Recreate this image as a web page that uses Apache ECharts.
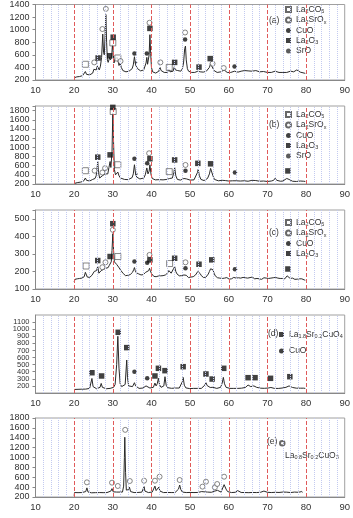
<!DOCTYPE html>
<html>
<head>
<meta charset="utf-8">
<script src="https://cdn.jsdelivr.net/npm/echarts@6/dist/echarts.min.js"></script>
<style>
  html, body { margin: 0; padding: 0; background: #fff; }
  #chart { width: 353px; height: 518px; }
</style>
</head>
<body>
<div id="chart"></div>
<script>
// XRD patterns, 2θ in degrees vs intensity
const traceA = [[20.0,235],[20.3,255],[20.7,250],[21.0,260],[21.4,255],[21.8,265],[22.2,270],[22.6,290],[22.9,335],[23.2,290],[23.6,275],[24.0,280],[24.4,290],[24.8,310],[25.1,370],[25.4,340],[25.7,360],[26.0,420],[26.2,440],[26.5,360],[26.8,420],[27.1,560],[27.4,930],[27.6,640],[27.8,600],[28.0,900],[28.2,1240],[28.4,800],[28.6,520],[28.8,480],[29.0,500],[29.2,560],[29.4,520],[29.7,560],[29.9,760],[30.1,640],[30.3,470],[30.5,520],[30.8,490],[31.1,560],[31.3,520],[31.6,430],[31.9,470],[32.2,400],[32.6,350],[33.0,340],[33.4,330],[33.8,320],[34.2,340],[34.6,350],[35.0,380],[35.3,440],[35.6,570],[35.9,440],[36.1,420],[36.4,380],[36.8,360],[37.2,345],[37.6,350],[38.0,360],[38.3,390],[38.6,470],[38.8,560],[39.0,450],[39.2,430],[39.4,600],[39.6,920],[39.8,620],[40.0,400],[40.3,330],[40.7,310],[41.1,310],[41.5,320],[41.9,340],[42.2,400],[42.5,350],[42.9,330],[43.3,320],[43.7,310],[44.1,320],[44.5,370],[44.8,330],[45.2,320],[45.6,340],[45.9,410],[46.2,360],[46.5,380],[46.8,350],[47.2,360],[47.6,340],[48.0,380],[48.3,470],[48.6,700],[48.8,740],[49.0,520],[49.3,380],[49.6,340],[50.0,330],[50.4,320],[50.8,330],[51.2,320],[51.6,330],[52.0,340],[52.3,360],[52.6,330],[53.0,320],[53.4,325],[53.8,330],[54.2,340],[54.6,360],[55.0,400],[55.3,460],[55.6,420],[55.9,400],[56.2,350],[56.6,330],[57.0,320],[57.5,325],[58.0,330],[58.5,340],[58.8,360],[59.1,330],[59.6,320],[60.0,315],[60.5,320],[61.0,325],[61.5,340],[61.9,320],[62.4,325],[62.8,330],[63.2,340],[63.7,370],[64.1,350],[64.5,340],[65.0,345],[65.5,330],[66.0,340],[66.5,335],[67.0,350],[67.4,340],[68.0,330],[68.5,325],[69.0,335],[69.5,330],[70.0,320],[70.5,325],[71.0,320],[71.5,330],[72.0,340],[72.4,330],[73.0,320],[73.5,315],[74.0,320],[74.5,325],[75.0,320],[75.5,330],[76.0,340],[76.4,350],[76.8,330],[77.2,345],[77.6,360],[78.0,330],[78.5,325],[79.0,320],[79.5,310],[79.8,305]];

const traceB = [[20.0,210],[20.4,225],[20.8,230],[21.2,235],[21.6,240],[22.0,245],[22.4,260],[22.7,300],[22.9,330],[23.2,280],[23.6,260],[24.0,265],[24.4,280],[24.8,300],[25.1,340],[25.4,320],[25.7,380],[26.0,600],[26.1,690],[26.3,450],[26.6,330],[27.0,350],[27.3,380],[27.6,340],[28.0,420],[28.3,380],[28.7,420],[29.0,560],[29.3,690],[29.5,560],[29.8,900],[30.0,1750],[30.2,1100],[30.4,520],[30.7,400],[31.0,420],[31.3,460],[31.6,380],[32.0,330],[32.5,310],[33.0,300],[33.5,290],[34.0,295],[34.5,310],[35.0,340],[35.3,420],[35.6,620],[35.9,420],[36.2,350],[36.6,320],[37.0,310],[37.5,315],[38.0,330],[38.4,400],[38.8,550],[39.1,420],[39.4,480],[39.6,620],[39.9,400],[40.2,320],[40.6,300],[41.0,290],[41.5,285],[42.0,295],[42.5,300],[43.0,290],[43.5,285],[44.0,300],[44.4,330],[44.7,320],[45.0,300],[45.4,330],[45.8,450],[46.0,560],[46.3,380],[46.7,300],[47.0,290],[47.5,285],[48.0,300],[48.4,320],[48.8,360],[49.1,310],[49.5,290],[50.0,285],[50.5,280],[51.0,290],[51.5,320],[51.9,450],[52.1,520],[52.4,380],[52.8,300],[53.2,280],[53.6,275],[54.0,285],[54.5,320],[55.0,420],[55.3,540],[55.6,500],[55.9,380],[56.3,300],[56.8,280],[57.3,270],[57.8,275],[58.3,280],[58.7,300],[59.1,275],[59.6,265],[60.0,265],[60.5,260],[61.0,270],[61.5,300],[61.9,270],[62.4,260],[63.0,265],[63.5,260],[64.0,270],[64.5,265],[65.0,260],[65.5,275],[66.0,280],[66.5,285],[67.0,275],[67.5,265],[68.0,260],[68.5,255],[69.0,265],[69.5,260],[70.0,255],[70.5,260],[71.0,265],[71.6,280],[72.0,325],[72.4,280],[72.9,265],[73.4,260],[74.0,265],[74.5,275],[75.0,320],[75.3,360],[75.6,300],[76.0,270],[76.5,260],[77.0,265],[77.5,255],[78.0,260],[78.5,265],[79.0,280],[79.4,260],[79.8,255]];

const traceC = [[20.0,140],[20.2,155],[20.5,150],[20.8,158],[21.1,152],[21.4,160],[21.7,155],[22.0,162],[22.3,158],[22.6,170],[22.9,195],[23.1,185],[23.4,168],[23.7,172],[24.0,166],[24.3,175],[24.6,178],[24.9,185],[25.2,200],[25.5,190],[25.8,205],[26.1,228],[26.4,190],[26.7,195],[27.0,205],[27.3,200],[27.6,212],[27.9,205],[28.2,218],[28.5,210],[28.8,222],[29.1,235],[29.3,230],[29.6,255],[29.8,320],[30.0,415],[30.2,320],[30.4,255],[30.7,265],[31.0,240],[31.2,248],[31.5,225],[31.8,215],[32.1,205],[32.4,195],[32.7,188],[33.0,182],[33.3,176],[33.6,172],[33.9,178],[34.2,170],[34.5,182],[34.8,185],[35.1,195],[35.4,210],[35.6,222],[35.8,205],[36.1,192],[36.4,184],[36.7,186],[37.0,178],[37.3,180],[37.6,174],[37.9,182],[38.2,185],[38.5,195],[38.8,205],[39.0,198],[39.3,205],[39.5,218],[39.7,205],[40.0,188],[40.3,178],[40.6,172],[40.9,176],[41.2,170],[41.5,178],[41.8,174],[42.1,180],[42.4,175],[42.7,182],[43.0,176],[43.3,172],[43.6,180],[43.9,185],[44.2,192],[44.5,205],[44.8,198],[45.1,190],[45.4,198],[45.7,215],[46.0,228],[46.3,200],[46.6,186],[46.9,180],[47.2,175],[47.5,170],[47.8,176],[48.1,172],[48.4,180],[48.7,190],[49.0,178],[49.3,170],[49.6,165],[49.9,172],[50.2,168],[50.5,174],[50.8,170],[51.1,176],[51.4,180],[51.7,188],[52.0,200],[52.3,210],[52.6,188],[52.9,176],[53.2,170],[53.5,165],[53.8,172],[54.1,168],[54.4,176],[54.7,185],[55.0,200],[55.3,215],[55.6,226],[55.9,210],[56.2,190],[56.5,175],[56.8,168],[57.1,164],[57.4,170],[57.7,162],[58.0,166],[58.3,160],[58.6,168],[58.9,162],[59.2,158],[59.5,165],[59.8,160],[60.1,156],[60.4,164],[60.7,158],[61.0,162],[61.3,166],[61.6,172],[61.9,162],[62.2,158],[62.5,164],[62.8,156],[63.1,162],[63.4,158],[63.7,166],[64.0,160],[64.3,164],[64.6,156],[64.9,162],[65.2,158],[65.5,165],[65.8,160],[66.1,168],[66.4,162],[66.7,158],[67.0,164],[67.3,160],[67.6,166],[67.9,158],[68.2,162],[68.5,155],[68.8,160],[69.1,164],[69.4,158],[69.7,162],[70.0,156],[70.3,160],[70.6,155],[70.9,162],[71.2,158],[71.5,164],[71.8,160],[72.1,166],[72.4,158],[72.7,162],[73.0,156],[73.3,160],[73.6,154],[73.9,160],[74.2,162],[74.5,158],[74.8,166],[75.1,175],[75.3,182],[75.6,168],[75.9,160],[76.2,156],[76.5,162],[76.8,158],[77.1,155],[77.4,160],[77.7,156],[78.0,162],[78.3,158],[78.6,154],[78.9,158],[79.2,155],[79.5,152],[79.8,150]];

const traceD = [[20.0,150],[20.5,155],[21.0,152],[21.5,156],[22.0,154],[22.5,158],[23.0,155],[23.5,160],[24.0,165],[24.3,190],[24.6,305],[24.9,190],[25.3,165],[25.8,160],[26.3,165],[26.7,180],[27.0,235],[27.3,180],[27.8,165],[28.3,160],[28.8,162],[29.3,165],[29.8,170],[30.2,180],[30.6,220],[31.0,500],[31.3,900],[31.6,450],[31.9,230],[32.3,190],[32.8,180],[33.2,220],[33.5,480],[33.6,565],[33.8,320],[34.1,200],[34.6,180],[35.1,190],[35.4,215],[35.6,245],[35.9,200],[36.3,175],[36.8,165],[37.3,165],[37.8,170],[38.3,175],[38.6,200],[38.8,222],[39.1,185],[39.6,170],[40.1,168],[40.5,180],[40.9,240],[41.2,200],[41.5,230],[41.8,307],[42.1,215],[42.5,180],[42.9,175],[43.2,200],[43.5,330],[43.8,210],[44.2,175],[44.7,168],[45.2,166],[45.7,165],[46.2,170],[46.7,168],[47.2,170],[47.7,185],[48.0,260],[48.2,320],[48.5,210],[48.9,172],[49.4,165],[49.9,162],[50.4,160],[50.9,165],[51.4,163],[51.9,165],[52.4,168],[52.9,165],[53.4,175],[53.8,210],[54.1,245],[54.4,205],[54.8,180],[55.2,178],[55.6,200],[55.9,180],[56.4,168],[56.9,165],[57.4,168],[57.9,180],[58.3,240],[58.6,320],[58.9,230],[59.3,180],[59.8,168],[60.3,165],[60.8,162],[61.3,165],[61.8,168],[62.3,165],[62.8,166],[63.3,168],[63.8,170],[64.3,178],[64.7,195],[65.0,212],[65.3,200],[65.7,190],[66.1,192],[66.5,200],[66.8,198],[67.2,180],[67.7,172],[68.2,168],[68.7,165],[69.2,166],[69.7,168],[70.2,170],[70.6,175],[70.9,178],[71.3,168],[71.8,165],[72.3,166],[72.8,164],[73.3,168],[73.8,170],[74.3,172],[74.8,180],[75.2,195],[75.6,200],[76.0,185],[76.5,178],[77.0,170],[77.5,168],[78.0,165],[78.5,168],[79.0,175],[79.4,168],[79.8,165]];

const traceE = [[20.0,225],[20.1,290],[20.5,285],[21.0,288],[21.5,282],[22.0,290],[22.5,292],[23.0,310],[23.3,385],[23.6,300],[24.0,290],[24.5,285],[25.0,282],[25.5,288],[26.0,285],[26.5,290],[27.0,285],[27.5,288],[28.0,292],[28.5,290],[29.0,300],[29.5,320],[29.8,370],[30.1,305],[30.5,290],[31.0,300],[31.3,330],[31.6,300],[32.0,295],[32.5,300],[32.8,420],[33.0,1000],[33.1,1410],[33.3,700],[33.5,340],[33.8,320],[34.1,350],[34.3,400],[34.6,310],[35.0,295],[35.5,290],[36.0,288],[36.5,292],[37.0,290],[37.5,298],[37.9,330],[38.1,410],[38.3,320],[38.7,295],[39.2,290],[39.7,292],[40.2,300],[40.6,340],[40.9,420],[41.2,330],[41.5,340],[41.9,400],[42.2,320],[42.6,295],[43.1,290],[43.6,288],[44.1,292],[44.6,288],[45.1,290],[45.6,292],[46.1,290],[46.6,300],[47.0,360],[47.3,443],[47.6,350],[48.0,300],[48.5,292],[49.0,290],[49.5,295],[50.0,292],[50.5,288],[51.0,290],[51.5,295],[52.0,292],[52.5,300],[53.0,310],[53.3,330],[53.6,305],[54.1,320],[54.5,300],[55.0,292],[55.5,295],[56.0,300],[56.4,320],[56.8,305],[57.1,335],[57.5,310],[58.0,300],[58.4,330],[58.8,450],[59.0,477],[59.3,360],[59.7,310],[60.2,295],[60.7,290],[61.2,292],[61.7,295],[62.3,330],[62.7,300],[63.2,292],[63.7,288],[64.2,290],[64.7,292],[65.2,288],[65.7,290],[66.2,292],[66.7,288],[67.2,290],[67.7,292],[68.2,295],[68.7,300],[69.1,320],[69.3,340],[69.6,305],[70.0,295],[70.5,292],[71.0,290],[71.5,292],[72.0,295],[72.5,290],[73.0,292],[73.5,295],[74.0,300],[74.5,310],[75.0,298],[75.5,292],[76.0,290],[76.5,295],[77.0,300],[77.5,310],[78.0,295],[78.5,305],[78.9,310],[79.1,295]];

// phase markers above the peaks
const marksA = {
  La2CO5: [[22.9,450],[30.0,790],[31.3,550],[44.6,400]],
  La2SrOx: [[25.2,480],[27.3,1010],[28.2,1330],[32.0,500],[39.5,1110],[42.3,480],[48.7,955],[55.8,460],[58.7,390]],
  CuO: [[35.6,620],[38.8,620],[48.7,845],[61.5,415]],
  La2O3: [[26.2,550],[29.2,585],[30.1,880],[39.6,1020],[46.0,480],[52.3,405],[55.2,540]],
  SrO: [[36.0,480]]
};
const marksB = {
  La2CO5: [[22.9,490],[30.1,1780],[31.3,620],[44.6,470]],
  La2SrOx: [[25.3,490],[27.3,450],[28.0,545],[39.4,870],[48.8,615]],
  CuO: [[35.6,750],[38.9,650],[48.8,490],[61.6,450]],
  La2O3: [[26.1,785],[29.3,835],[30.0,1870],[39.6,750],[46.0,725],[52.0,650],[55.3,640],[75.3,485]],
  SrO: [[36.1,420]]
};
const marksC = {
  La2CO5: [[23.1,231],[31.3,285],[44.7,245]],
  La2SrOx: [[27.3,224],[28.1,252],[30.0,437],[39.5,294],[48.8,252]],
  CuO: [[35.6,256],[38.9,250],[48.8,218],[61.6,212]],
  La2O3: [[26.1,262],[29.3,285],[30.0,472],[39.6,266],[46.0,275],[52.3,241],[55.6,266],[75.3,214]]
};
const marksD = {
  'La1.8Sr0.2CuO4': [[24.6,386],[27.1,340],[31.4,956],[33.6,740],[40.9,340],[41.8,448],[43.5,415],[48.2,471],[54.1,368],[55.7,297],[58.7,448],[65.0,316],[66.8,316],[70.8,307],[75.8,330]],
  CuO: [[35.6,400],[38.9,307]]
};
const marksE = {
  'La0.8Sr0.2CuO3': [[23.3,497],[29.8,490],[31.3,423],[33.2,1560],[34.4,524],[38.1,530],[40.9,530],[42.1,611],[47.3,544],[53.2,410],[54.1,510],[56.4,396],[57.0,463],[58.8,611]]
};

// red dashed guide lines every 10 degrees, light dotted ones every 2
const guideX = [20, 30, 40, 50, 60, 70, 80];
const minorX = [12, 14, 16, 18, 22, 24, 26, 28, 32, 34, 36, 38, 42, 44, 46, 48, 52, 54, 56, 58, 62, 64, 66, 68, 72, 74, 76, 78, 82, 84, 86, 88];
const panelLabels = ['(a)', '(b)', '(c)', '(d)', '(e)'];

const phaseRich = {
  La2CO5: 'La{s|2}CO{s|5}',
  La2SrOx: 'La{s|2}SrO{s|x}',
  CuO: 'CuO',
  La2O3: 'La{s|2}O{s|3}',
  SrO: 'SrO',
  'La1.8Sr0.2CuO4': 'La{s|1.8}Sr{s|0.2}CuO{s|4}',
  'La0.8Sr0.2CuO3': 'La{s|0.8}Sr{s|0.2}CuO{s|3}'
};

const openStyle = { color: '#fff', borderColor: '#444', borderWidth: 0.8 };
const fillStyle = { color: '#111' };
const phaseStyle = {
  La2CO5: { symbol: 'rect', size: 6, itemStyle: openStyle },
  La2SrOx: { symbol: 'circle', size: 5, itemStyle: openStyle },
  CuO: { symbol: 'circle', size: 4.5, itemStyle: fillStyle },
  La2O3: { symbol: 'rect', size: 5.5, itemStyle: fillStyle },
  SrO: { symbol: 'circle', size: 2.5, itemStyle: { color: '#333' } },
  'La1.8Sr0.2CuO4': { symbol: 'rect', size: 5.5, itemStyle: fillStyle },
  'La0.8Sr0.2CuO3': { symbol: 'circle', size: 5, itemStyle: openStyle }
};

const layout = [
  { top: 2, height: 78, min: 200, max: 1400, interval: 200, fs: 9 },
  { top: 106, height: 78, min: 200, max: 1900, interval: 200, fs: 9 },
  { top: 210, height: 79, min: 100, max: 550, interval: 100, fs: 9 },
  { top: 315, height: 78, min: 100, max: 1200, interval: 100, fs: 7.5 },
  { top: 418, height: 79, min: 200, max: 1800, interval: 200, fs: 9 }
];
const traces = [traceA, traceB, traceC, traceD, traceE];
const marks = [marksA, marksB, marksC, marksD, marksE];

function vLines(i, xs, lineStyle) {
  return {
    type: 'line', xAxisIndex: i, yAxisIndex: i, data: [], silent: true, z: 1,
    markLine: { silent: true, symbol: 'none', label: { show: false }, animation: false,
      lineStyle, emphasis: { disabled: true }, data: xs.map((x) => ({ xAxis: x })) }
  };
}

const grids = [], xAxes = [], yAxes = [], series = [];
layout.forEach((p, i) => {
  grids.push({ left: 35.5, width: 312, top: p.top, height: p.height, show: true, borderColor: '#a0a0a0', borderWidth: 1 });
  xAxes.push({
    gridIndex: i, type: 'value', min: 10, max: 90, interval: 10,
    axisLine: { lineStyle: { color: '#888' } },
    axisTick: { show: false },
    axisLabel: { color: '#333', fontSize: 9.5, margin: 5, fontFamily: 'Liberation Sans' },
    splitLine: { show: false }
  });
  yAxes.push({
    gridIndex: i, type: 'value', min: p.min, max: p.max, interval: p.interval,
    axisLine: { show: true, lineStyle: { color: '#888' } },
    axisTick: { show: true, length: 3, lineStyle: { color: '#888' } },
    axisLabel: { color: '#333', fontSize: p.fs, margin: 6, fontFamily: 'Liberation Sans',
      formatter: (v) => (v % p.interval === 0 ? String(v) : '') },
    splitLine: { show: false }
  });
  series.push(vLines(i, minorX, { color: '#c3caf0', type: [1, 1], width: 1 }));
  series.push(vLines(i, guideX, { color: '#e05a5a', type: [4, 2], width: 1 }));
  series.push({
    type: 'line', xAxisIndex: i, yAxisIndex: i, data: traces[i], showSymbol: false, silent: true,
    lineStyle: { color: '#2a2a2a', width: 1 }, z: 3
  });
  Object.keys(marks[i]).forEach((name) => {
    const st = phaseStyle[name];
    series.push({
      type: 'scatter', name, xAxisIndex: i, yAxisIndex: i, data: marks[i][name],
      symbol: st.symbol, symbolSize: st.size, itemStyle: st.itemStyle, z: 4
    });
  });
});

const legendText = { color: '#333', fontSize: 8.5, fontFamily: 'Liberation Sans',
  rich: { s: { fontSize: 5.5, verticalAlign: 'bottom', padding: [4, 0, 0, 0], fontFamily: 'Liberation Sans' } } };
const mkLegend = (names, left, top, gap, size, fmt) => ({
  orient: 'vertical', left, top, itemGap: gap, itemWidth: size, itemHeight: size,
  selectedMode: false, padding: 0, data: names,
  formatter: fmt || ((n) => phaseRich[n]), textStyle: legendText
});

const legends = [
  mkLegend(['La2CO5', 'La2SrOx', 'CuO', 'La2O3', 'SrO'], 285, 5, 1, 5),
  mkLegend(['La2CO5', 'La2SrOx', 'CuO', 'La2O3', 'SrO'], 285, 110, 1, 5),
  mkLegend(['La2CO5', 'La2SrOx', 'CuO', 'La2O3'], 285, 218, 1, 5),
  mkLegend(['La1.8Sr0.2CuO4', 'CuO'], 279, 330, 7, 5),
  mkLegend(['La0.8Sr0.2CuO3'], 279, 440, 1, 4.5, () => '')
];

const labelPos = [[269, 22], [269, 126], [269, 234], [268, 335], [267, 443]];
const graphics = panelLabels.map((t, i) => ({
  type: 'text', left: labelPos[i][0], top: labelPos[i][1] - 6,
  style: { text: t, fill: '#333', fontSize: 8.5, fontFamily: 'Liberation Sans' }
}));
graphics.push({
  type: 'text', left: 285, top: 451,
  style: { text: phaseRich['La0.8Sr0.2CuO3'], fill: '#333', fontSize: 8.5, fontFamily: 'Liberation Sans', rich: legendText.rich }
});

const chart = echarts.init(document.getElementById('chart'), null, { renderer: 'canvas' });
chart.setOption({
  animation: false,
  backgroundColor: '#fff',
  grid: grids,
  xAxis: xAxes,
  yAxis: yAxes,
  legend: legends,
  graphic: graphics,
  series
});
</script>
</body>
</html>
